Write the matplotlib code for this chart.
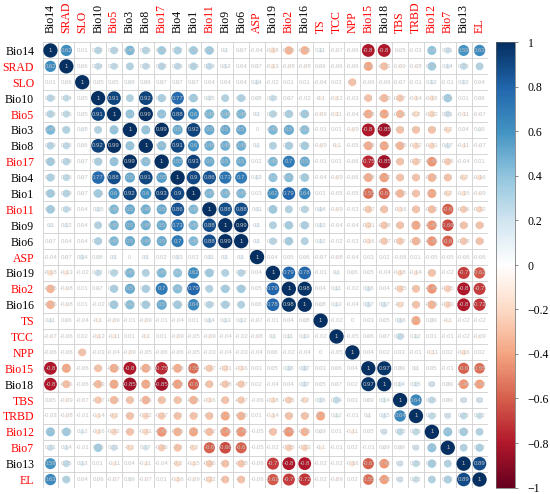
import numpy as np
import matplotlib
matplotlib.use("Agg")
import matplotlib.pyplot as plt
from matplotlib.patches import Circle
from matplotlib.colors import Normalize, LinearSegmentedColormap
import matplotlib.cm as cm

labels = ["Bio14", "SRAD", "SLO", "Bio10", "Bio5", "Bio3", "Bio8", "Bio17", "Bio4",
          "Bio1", "Bio11", "Bio9", "Bio6", "ASP", "Bio19", "Bio2", "Bio16", "TS",
          "TCC", "NPP", "Bio15", "Bio18", "TBS", "TRBD", "Bio12", "Bio7", "Bio13", "EL"]
red_labels = ["SRAD", "SLO", "Bio5", "Bio17", "Bio11", "ASP", "Bio2", "TS", "TCC",
              "NPP", "Bio15", "TBS", "TRBD", "Bio12", "Bio7", "EL"]

# upper-triangle rows (values to the right of the diagonal)
r_bio14 = [0.62, 0.01, 0.28, 0.29, 0.45, 0.29, 0.36, 0.32, 0.36, 0.36, 0.1, 0.07, -0.04, -0.18,
           -0.35, -0.36, 0.11, -0.07, -0.06, -0.8, -0.8, 0.05, -0.03, 0.4, 0.21, 0.59, 0.63]
r_srad = [0.06, 0.24, 0.25, 0.3, 0.25, 0.28, 0.25, 0.29, 0.24, 0.12, 0.04, 0.07, -0.13, -0.08,
          -0.08, 0.06, -0.06, -0.06, -0.4, -0.31, -0.09, -0.08, 0.36, 0.14, 0.25, 0.3]
r_slo = [0.05, 0.05, 0.08, 0.06, 0.07, 0.07, 0.07, 0.04, 0.04, 0.04, 0.14, -0.02, 0.01, 0.01,
         -0.04, 0.02, -0.3, -0.06, -0.06, -0.07, -0.01, 0.12, -0.01, 0.13, 0.04]
r_bio10 = [0.91, 0.3, 0.92, 0.33, 0.77, 0.36, 0.15, 0.3, 0.31, 0.08, 0.22, 0.07, -0.02, -0.1,
           -0.12, -0.03, -0.3, -0.33, -0.27, -0.14, -0.16, 0.35, 0.01, 0.06]
r_bio5 = [0.4, 0.99, 0.4, 0.88, 0.6, 0.45, 0.45, 0.45, 0.1, 0.28, 0.33, 0.36, -0.09, -0.11,
          -0.04, -0.38, -0.4, -0.33, -0.2, -0.22, 0.21, -0.11, -0.07]
r_bio3 = [0.4, 0.99, 0.5, 0.92, 0.5, 0.5, 0.5, 0, 0.45, 0.5, 0.42, -0.01, 0.01, -0.09, -0.8,
          -0.85, -0.3, -0.3, -0.3, -0.2, 0.04, 0.09]
r_bio8 = [0.42, 0.91, 0.6, 0.48, 0.48, 0.48, 0.1, 0.3, 0.33, 0.35, -0.09, -0.1, -0.05, -0.38,
          -0.4, -0.35, -0.22, -0.21, 0.17, -0.11, -0.07]
r_bio17 = [0.55, 0.93, 0.5, 0.5, 0.5, 0.02, 0.45, 0.7, 0.5, -0.01, 0.01, -0.06, -0.75, -0.85,
           -0.3, -0.27, -0.45, -0.26, -0.04, 0.01]
r_bio4 = [0.9, 0.86, 0.73, 0.7, 0.13, 0.4, 0.42, 0.36, -0.04, -0.09, -0.06, -0.38, -0.42, -0.3,
          -0.3, -0.36, -0.3, -0.2, -0.16]
r_bio1 = [0.45, 0.45, 0.45, 0.03, 0.62, 0.79, 0.64, 0.01, -0.05, -0.05, -0.55, -0.6, -0.35,
          -0.3, -0.4, -0.2, -0.15, -0.09]
r_bio11 = [0.88, 0.88, 0.11, 0.37, 0.3, 0.28, 0.14, -0.09, -0.03, -0.27, -0.3, -0.16, -0.3,
           -0.32, -0.6, -0.26, -0.22]
r_bio9 = [0.99, 0.1, 0.3, 0.35, 0.33, 0.13, -0.04, -0.04, -0.21, -0.28, -0.3, -0.4, -0.45,
          -0.66, -0.3, -0.3]
r_bio6 = [0.1, 0.28, 0.35, 0.3, 0.12, -0.02, -0.03, -0.16, -0.27, -0.27, -0.35, -0.45, -0.6,
          -0.28, -0.3]
r_asp = [0.04, 0.05, 0.06, -0.07, -0.08, -0.04, 0.03, 0.02, -0.06, 0.01, -0.05, -0.05, -0.06, -0.06]
r_bio19 = [0.79, 0.78, -0.01, 0.1, 0.06, 0.05, -0.04, -0.18, -0.14, -0.3, -0.02, -0.7, -0.62]
r_bio2 = [0.98, 0.04, 0.11, -0.02, 0.16, 0.04, -0.25, -0.3, -0.45, -0.25, -0.8, -0.7]
r_bio16 = [0.08, 0.13, -0.04, 0.17, 0.17, -0.2, -0.3, -0.35, -0.23, -0.8, -0.72]
r_ts = [-0.02, 0, 0.03, 0.05, 0.16, -0.4, 0.09, -0.1, -0.02, -0.02]
r_tcc = [-0.05, 0.06, 0.07, 0.24, 0.12, 0.01, -0.01, -0.02, -0.09]
r_npp = [0.04, 0.02, 0.03, -0.01, -0.11, 0.02, -0.16, 0.02]
r_bio15 = [0.97, 0.09, 0.1, 0.05, -0.01, -0.6, -0.55]
r_bio18 = [0.14, 0.15, 0.2, 0.09, -0.45, -0.42]
r_tbs = [0.64, 0.25, 0.09, 0.2, 0.2]
r_trbd = [0.25, 0.2, 0.25, 0.22]
r_bio12 = [0.4, 0.35, 0.3]
r_bio7 = [0.3, 0.32]
r_bio13 = [0.89]

upper_rows = [r_bio14, r_srad, r_slo, r_bio10, r_bio5, r_bio3, r_bio8, r_bio17, r_bio4,
              r_bio1, r_bio11, r_bio9, r_bio6, r_asp, r_bio19, r_bio2, r_bio16, r_ts,
              r_tcc, r_npp, r_bio15, r_bio18, r_tbs, r_trbd, r_bio12, r_bio7, r_bio13]

n = len(labels)
M = np.eye(n)
for i, row in enumerate(upper_rows):
    M[i, i + 1:] = row
    M[i + 1:, i] = row

W, H = 550, 494
fig = plt.figure(figsize=(W / 100, H / 100), dpi=100)
x0, x1, y0, y1 = 42.5, 487.5, 42.5, 487.5
ax = fig.add_axes([x0 / W, 1 - y1 / H, (x1 - x0) / W, (y1 - y0) / H])
ax.set_xlim(0, n)
ax.set_ylim(n, 0)

col2 = ["#67001F", "#B2182B", "#D6604D", "#F4A582", "#FDDBC7", "#FFFFFF",
        "#D1E5F0", "#92C5DE", "#4393C3", "#2166AC", "#053061"]
cmap = LinearSegmentedColormap.from_list("corr_rdbu", col2, N=200)
norm = Normalize(-1, 1)

# grid
for k in range(n + 1):
    ax.axhline(k, color="#CFCFCF", lw=0.6, zorder=1)
    ax.axvline(k, color="#CFCFCF", lw=0.6, zorder=1)

def fmt(v):
    v = round(float(v), 2)
    if v == 0:
        return "0"
    return f"{v:g}"

for i in range(n):
    for j in range(n):
        v = M[i, j]
        r = 0.45 * np.sqrt(abs(v))
        ax.add_patch(Circle((j + 0.5, i + 0.5), r, facecolor=cmap(norm(v)),
                            edgecolor="none", zorder=2))
        ax.text(j + 0.5, i + 0.5, fmt(v), ha="center", va="center",
                fontsize=4.3, color="#C4C4C4", family="Liberation Sans", zorder=3)

centers = np.arange(n) + 0.5
ax.set_xticks(centers)
ax.set_yticks(centers)
ax.xaxis.tick_top()
ax.set_xticklabels(labels, rotation=90, family="Liberation Serif", fontsize=8.5)
ax.set_yticklabels(labels, family="Liberation Serif", fontsize=8.5)
ax.tick_params(axis="x", length=0, pad=7)
ax.tick_params(axis="y", length=0, pad=6)
for t in ax.get_xticklabels() + ax.get_yticklabels():
    if t.get_text() in red_labels:
        t.set_color("red")
    else:
        t.set_color("black")
for s in ax.spines.values():
    s.set_visible(False)

# colorbar
cax = fig.add_axes([496 / W, 1 - y1 / H, 19 / W, (y1 - y0) / H])
sm = cm.ScalarMappable(norm=norm, cmap=cmap)
cb = fig.colorbar(sm, cax=cax)
ticks = np.round(np.arange(-1, 1.01, 0.2), 1)
cb.set_ticks(ticks)
cb.set_ticklabels([fmt(t).replace("-", "\u2212") for t in ticks])
cax.tick_params(length=2, width=0.5, color="#555555", pad=7, labelsize=8.5)
for t in cax.get_yticklabels():
    t.set_family("Liberation Serif")
cb.outline.set_linewidth(0.5)
cb.outline.set_edgecolor("#666666")

fig.savefig("out.png", dpi=100)
